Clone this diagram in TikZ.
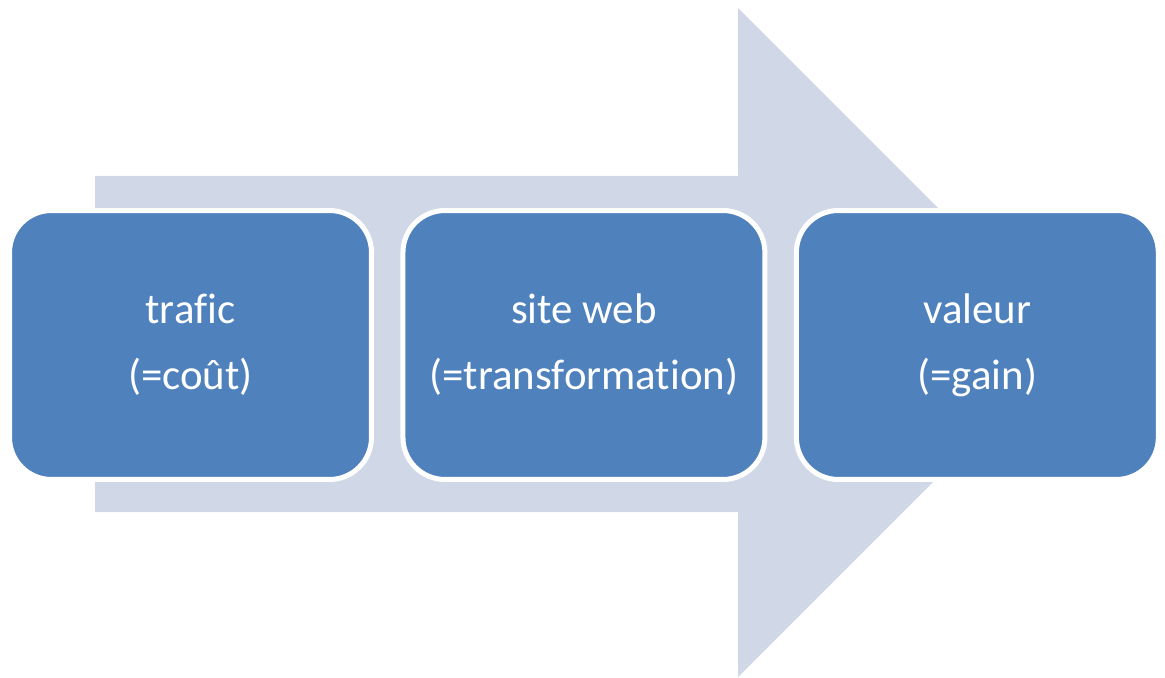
\documentclass[tikz,border=0pt]{standalone}
\usepackage{fontspec}
\setmainfont[Ligatures=NoCommon]{Carlito}
\usetikzlibrary{positioning}
\definecolor{stepblue}{HTML}{4F81BD}
\definecolor{flowgrey}{HTML}{D0D8E8}
\tikzset{
  stepbox/.style={rectangle,rounded corners=0.84cm,fill=stepblue,draw=white,line width=0.1cm,
    minimum width=7.24cm,minimum height=5.38cm,inner sep=0pt,align=center,text=white,
    font=\fontsize{24.4}{37.6}\selectfont},
  flowarrow/.style={fill=flowgrey,draw=none}
}
\begin{document}
\begin{tikzpicture}[x=0.02cm,y=-0.02cm]
      \useasboundingbox (0,0) rectangle (1165,678);
      \fill[flowarrow] (95,176) -- (738,176) -- (738,8) -- (1072.5,342.5) -- (738,677) -- (738,512) -- (95,512) -- cycle;

      \node[stepbox] (trafic) at (190.5,345) {trafic\\(=coût)};
      \node[stepbox,right=0.53cm of trafic] (site) {site web\\(=transformation)};
      \node[stepbox,right=0.53cm of site] (valeur) {valeur\\(=gain)};
\end{tikzpicture}
\end{document}
